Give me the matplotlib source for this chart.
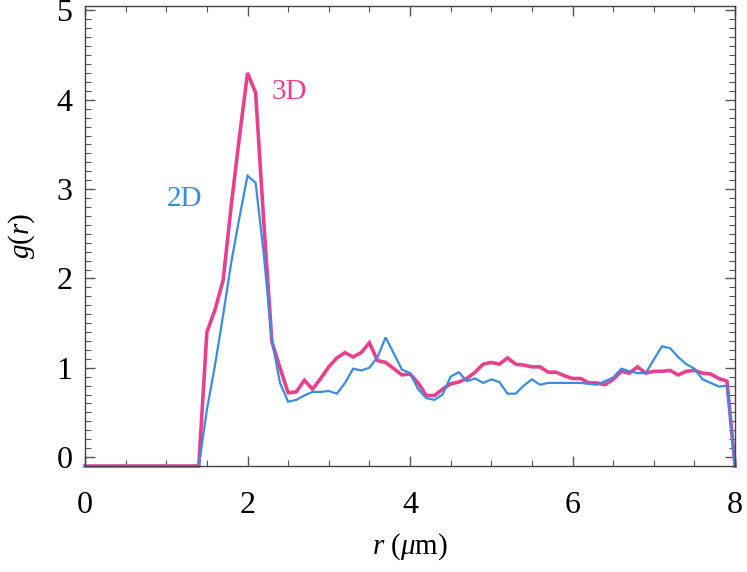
import numpy as np
import matplotlib
matplotlib.use("Agg")
import matplotlib.pyplot as plt
from matplotlib.ticker import MultipleLocator

plt.rcParams['font.family'] = ['Liberation Serif', 'DejaVu Serif']
plt.rcParams['mathtext.fontset'] = 'custom'
plt.rcParams['mathtext.rm'] = 'Liberation Serif'
plt.rcParams['mathtext.it'] = 'Liberation Serif:italic'

# r в мкм, шаг 0.1
r = np.round(np.arange(0, 8.01, 0.1), 1)

# g(r) для 3D (до r=1.4 на нуле графика)
g3d = [-0.1] * 15 + [
    1.40, 1.65, 1.98, 2.82, 3.58, 4.30, 4.08, 2.63, 1.29, 1.00,
    0.72, 0.73, 0.86, 0.76, 0.88, 1.01, 1.11, 1.17, 1.12, 1.17,
    1.28, 1.08, 1.06, 0.99, 0.92, 0.93, 0.83, 0.69, 0.69, 0.76,
    0.82, 0.84, 0.88, 0.95, 1.04, 1.06, 1.04, 1.11, 1.04, 1.03,
    1.01, 1.01, 0.95, 0.95, 0.91, 0.88, 0.88, 0.83, 0.83, 0.81,
    0.87, 0.96, 0.94, 1.01, 0.94, 0.96, 0.96, 0.97, 0.92, 0.96,
    0.97, 0.94, 0.93, 0.88, 0.85, -0.1]

# g(r) для 2D
g2d = [-0.1] * 15 + [
    0.53, 1.03, 1.59, 2.18, 2.68, 3.15, 3.07, 2.27, 1.31, 0.83,
    0.62, 0.64, 0.69, 0.73, 0.73, 0.74, 0.71, 0.83, 0.99, 0.97,
    1.00, 1.12, 1.34, 1.16, 0.98, 0.94, 0.76, 0.66, 0.64, 0.70,
    0.90, 0.95, 0.85, 0.88, 0.83, 0.87, 0.84, 0.71, 0.71, 0.80,
    0.87, 0.81, 0.83, 0.83, 0.83, 0.83, 0.83, 0.82, 0.81, 0.85,
    0.89, 0.99, 0.96, 0.94, 0.94, 1.09, 1.24, 1.22, 1.12, 1.04,
    0.99, 0.87, 0.83, 0.79, 0.80, -0.1]

pink = '#E8408E'
blue = '#3A8DDE'

fig = plt.figure(figsize=(7.47, 5.72), dpi=100)
ax = fig.add_axes([0.1138, 0.1853, 0.8702, 0.8042])

ax.plot(r, g3d, color=pink, lw=2.6, clip_on=False, solid_joinstyle='miter')
ax.plot(r, g2d, color=blue, lw=1.6, clip_on=False, solid_joinstyle='miter')

ax.text(2.51, 4.09, '3D', color=pink, fontsize=21, ha='center', va='center')
ax.text(1.22, 2.89, '2D', color=blue, fontsize=21, ha='center', va='center')

ax.set_xlim(0, 8)
ax.set_ylim(-0.1, 5.05)
ax.xaxis.set_major_locator(MultipleLocator(2))
ax.xaxis.set_minor_locator(MultipleLocator(0.5))
ax.yaxis.set_major_locator(MultipleLocator(1))
ax.yaxis.set_minor_locator(MultipleLocator(0.1))
ax.tick_params(which='both', direction='in', top=True, right=True,
               color='#555555', labelsize=23)
ax.tick_params(which='major', length=7, width=1)
ax.tick_params(which='minor', length=4, width=0.8)
ax.tick_params(axis='x', which='major', pad=18)
ax.tick_params(axis='y', which='major', pad=9)
for s in ax.spines.values():
    s.set_color('#444444')
    s.set_linewidth(1)

ax.set_xlabel(r'$r$ ($\mu$m)', fontsize=21, labelpad=8)
ax.set_ylabel(r'$g(r)$', fontsize=21, labelpad=14)

fig.savefig('out.png', dpi=100)
